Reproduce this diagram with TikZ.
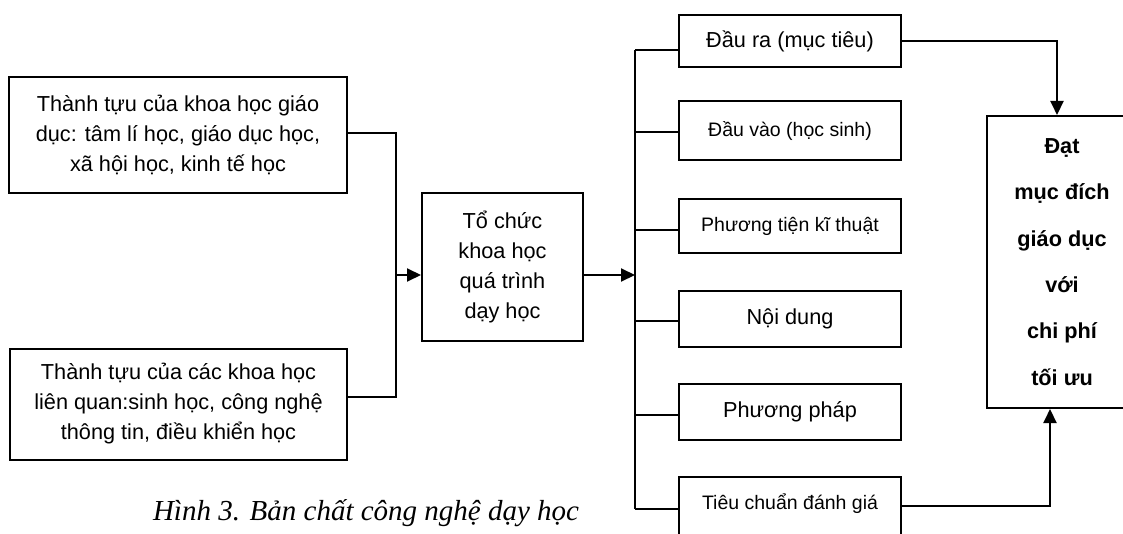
\documentclass[tikz,border=0pt]{standalone}
\usepackage{fontspec}
\setmainfont{Liberation Sans}
\newfontfamily\hinhfont{Liberation Serif}
\usetikzlibrary{arrows.meta}
\tikzset{
  khung/.style={draw,line width=1pt,inner sep=0pt,align=center,font=\fontsize{10.85}{15}\selectfont},
  nho/.style={font=\fontsize{9.75}{13}\selectfont},
  dich/.style={khung,font=\fontsize{10.85}{23.15}\selectfont\bfseries}
}
\begin{document}
\begin{tikzpicture}[x=0.5pt,y=-0.5pt,>={Triangle[length=7pt,width=6.5pt]},line width=1pt,line join=miter]
	\useasboundingbox (0,0) rectangle (1123,534);
	\clip (0,0) rectangle (1123,534);
	\fill[white] (0,0) rectangle (1123,534);
	\node[khung,minimum width=169pt,minimum height=58pt] (k1) at (178,135) {Thành tựu của khoa học giáo\\dục: tâm lí học, giáo dục học,\\xã hội học, kinh tế học};
	\node[khung,minimum width=168.5pt,minimum height=55.5pt] (k2) at (178.5,404) {Thành tựu của các khoa học\\liên quan:sinh học, công nghệ\\thông tin, điều khiển học};
	\node[khung,minimum width=80.5pt,minimum height=74pt] (tc) at (502.5,267) {Tổ chức\\khoa học\\quá trình\\dạy học};
	\node[khung,minimum width=111pt,minimum height=26pt] (b1) at (790,41) {Đầu ra (mục tiêu)};
	\node[khung,nho,minimum width=111pt,minimum height=29.25pt] (b2) at (790,130.7) {Đầu vào (học sinh)};
	\node[khung,nho,minimum width=111pt,minimum height=27pt] (b3) at (790,226) {Phương tiện kĩ thuật};
	\node[khung,minimum width=111pt,minimum height=28pt] (b4) at (790,319) {Nội dung};
	\node[khung,minimum width=111pt,minimum height=28pt] (b5) at (790,412) {Phương pháp};
	\node[khung,nho,minimum width=111pt,anchor=north,text height=16pt,text depth=16pt] (b6) at (790,476) {Tiêu chuẩn đánh giá};
	\node[dich,minimum width=75pt,minimum height=146pt] (big) at (1062,262) {Đạt\\mục đích\\giáo dục\\với\\chi phí\\tối ưu};
	\node[anchor=base west,inner sep=0pt,font=\hinhfont\fontsize{14.5}{17}\selectfont\itshape] (hinh) at (152,520) {Hình 3. Bản chất công nghệ dạy học};
	\coordinate (t1) at (396,133);
	\coordinate (t2) at (396,397);
	\coordinate (tg) at (396,275);
	\draw (k1.east |- t1) -- (t1) -- (t2) -- (k2.east |- t2);
	\draw[->] (tg) -- (tc.west |- tg);
	\coordinate (p0) at (635,275);
	\draw[->] (tc.east |- p0) -- (p0);
	\coordinate (p1) at (635,50);
	\coordinate (p2) at (635,132);
	\coordinate (p3) at (635,230);
	\coordinate (p4) at (635,321);
	\coordinate (p5) at (635,414.5);
	\coordinate (p6) at (635,509);
	\draw (p1) -- (p6);
	\foreach \i in {1,...,6}
		\draw (p\i) -- (b\i.west |- p\i);
	\coordinate (r1) at (1057,40.7);
	\draw[->] (b1.east |- r1) -- (r1) -- (big.north -| r1);
	\coordinate (r2) at (1050,506);
	\draw[->] (b6.east |- r2) -- (r2) -- (big.south -| r2);
\end{tikzpicture}
\end{document}
